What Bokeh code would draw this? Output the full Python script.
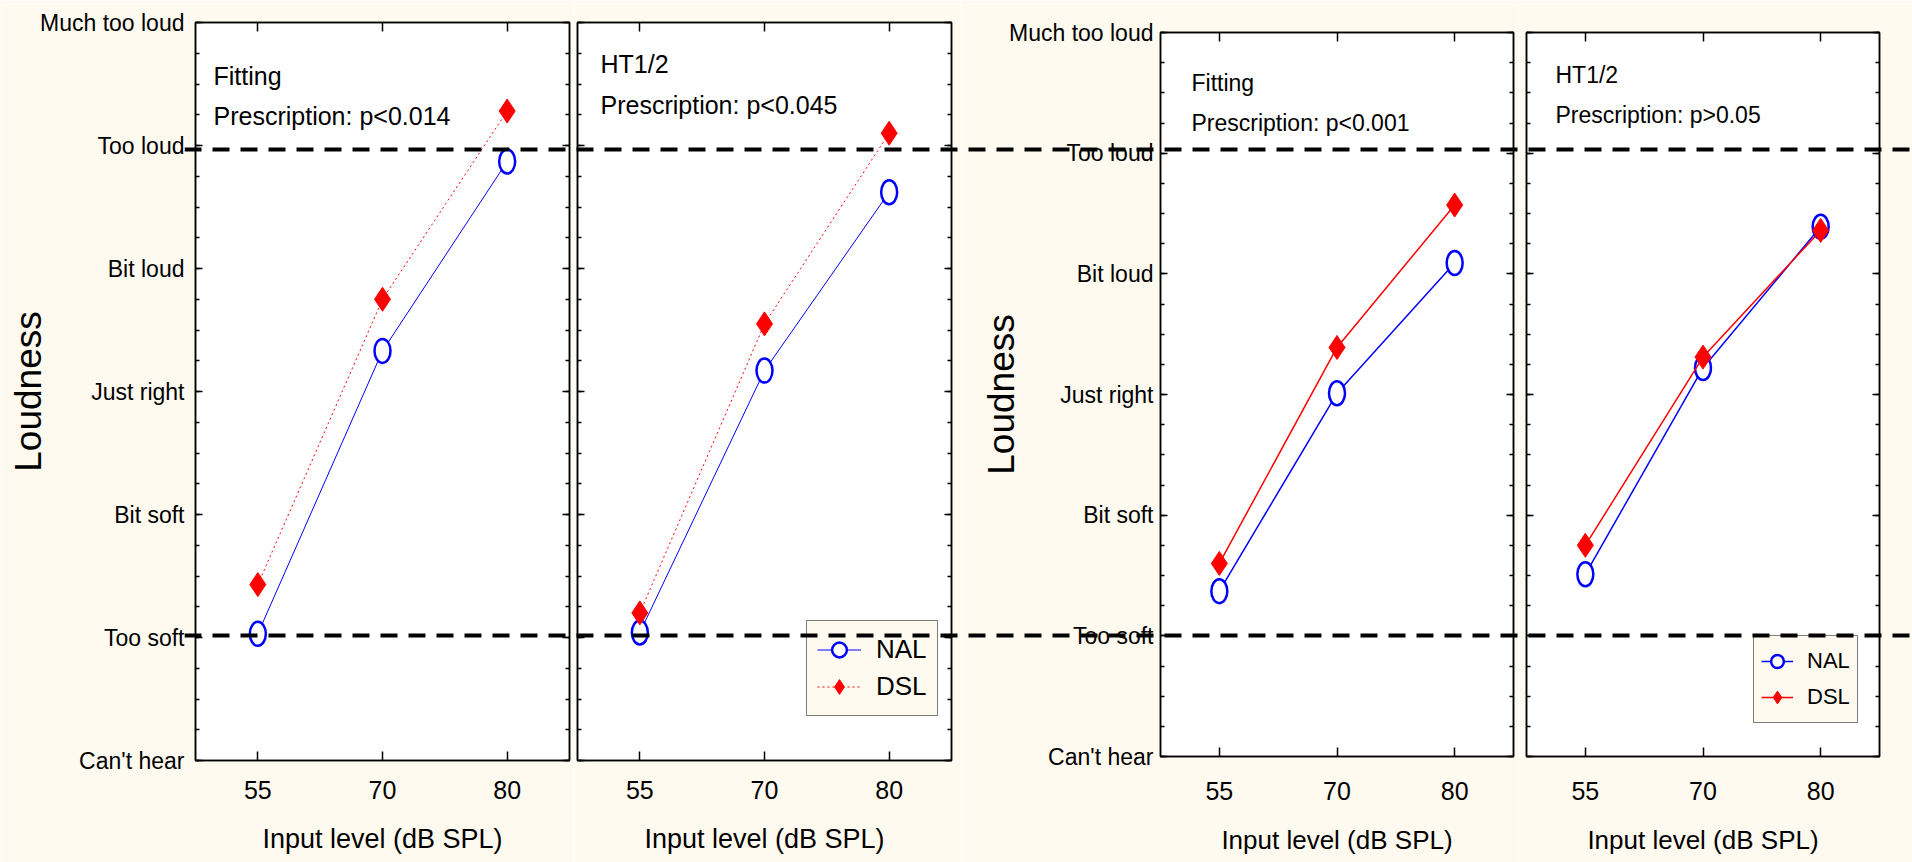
from bokeh.plotting import figure
from bokeh.models import (Range1d, FactorRange, LinearAxis, CategoricalAxis,
                          SingleIntervalTicker, CustomJSTickFormatter, Label,
                          Legend, LegendItem, GridBox, Row)
from bokeh.embed import file_html
from bokeh.resources import INLINE

# ---- data -------------------------------------------------------------
input_levels = ["55", "70", "80"]
loudness_scale = ["Can't hear", "Too soft", "Bit soft", "Just right",
                  "Bit loud", "Too loud", "Much too loud"]

# study A (left pair of panels)
fitting_a_nal = [1.03, 3.33, 4.87]
fitting_a_dsl = [1.43, 3.75, 5.28]
ht_a_nal = [1.04, 3.17, 4.62]
ht_a_dsl = [1.20, 3.55, 5.10]

# study B (right pair of panels)
fitting_b_nal = [1.37, 3.01, 4.09]
fitting_b_dsl = [1.60, 3.39, 4.57]
ht_b_nal = [1.51, 3.22, 4.39]
ht_b_dsl = [1.75, 3.31, 4.36]

panel_titles = ["Fitting", "HT1/2", "Fitting", "HT1/2"]
panel_stats = ["Prescription: p<0.014", "Prescription: p<0.045",
               "Prescription: p<0.001", "Prescription: p>0.05"]

comfort_limits = [5, 1]  # "Too loud" / "Too soft"

# ---- style ------------------------------------------------------------
CREAM = "#FFFAEF"
SANS = "Liberation Sans"
H = 862


def blank_labels(ax):
    ax.formatter = CustomJSTickFormatter(code="return ''")
    ax.major_label_standoff = 0
    ax.major_label_text_font_size = "1px"


def style_ticks(ax, tick_in, minor_in=0):
    ax.axis_line_width = 1.5
    ax.axis_line_color = "black"
    ax.major_tick_line_width = 1.5
    ax.minor_tick_line_width = 1.5
    ax.major_tick_in = tick_in
    ax.major_tick_out = 0
    ax.minor_tick_in = minor_in
    ax.minor_tick_out = 0


def make_panel(nal, dsl, title, stat, width, borders, y_labels, cfg):
    left, right, top, bottom = borders
    p = figure(width=width, height=H,
               x_range=FactorRange(*input_levels), y_range=Range1d(0, 6),
               min_border_left=left, min_border_right=right,
               min_border_top=top, min_border_bottom=bottom,
               frame_align=False,
               toolbar_location=None, output_backend="svg",
               background_fill_color="white", border_fill_color=CREAM,
               outline_line_color="black", outline_line_width=1.5)
    p.grid.visible = False

    # bottom axis
    xa = p.xaxis[0]
    style_ticks(xa, 9)
    xa.major_label_text_font = SANS
    xa.major_label_text_font_size = cfg["xtick_size"]
    xa.major_label_text_color = "black"
    xa.major_label_standoff = cfg["x_standoff"]
    xa.axis_label = "Input level (dB SPL)"
    xa.axis_label_text_font = SANS
    xa.axis_label_text_font_size = cfg["xlabel_size"]
    xa.axis_label_text_font_style = "normal"
    xa.axis_label_text_color = "black"
    xa.axis_label_standoff = cfg["xlabel_standoff"]

    # left axis
    ya = p.yaxis[0]
    ya.ticker = SingleIntervalTicker(interval=1, num_minor_ticks=4)
    style_ticks(ya, 7, 4)
    if y_labels:
        ya.major_label_overrides = {i: s for i, s in enumerate(loudness_scale)}
        ya.major_label_text_font = SANS
        ya.major_label_text_font_size = "23px"
        ya.major_label_text_color = "black"
        ya.major_label_standoff = cfg["y_standoff"]
        ya.axis_label = "Loudness"
        ya.axis_label_text_font = SANS
        ya.axis_label_text_font_size = "37px"
        ya.axis_label_text_font_style = "normal"
        ya.axis_label_text_color = "black"
        ya.axis_label_standoff = cfg["ylabel_standoff"]
    else:
        blank_labels(ya)

    # mirrored tick marks on top and right
    ra = LinearAxis(ticker=SingleIntervalTicker(interval=1, num_minor_ticks=4))
    style_ticks(ra, 7, 4)
    blank_labels(ra)
    p.add_layout(ra, "right")
    ta = CategoricalAxis()
    style_ticks(ta, 9)
    blank_labels(ta)
    p.add_layout(ta, "above")

    # series
    nal_line = p.line(input_levels, nal, line_color="blue", line_width=cfg["lw"])
    nal_key = p.scatter(input_levels, nal, marker="circle", size=0,
                        fill_color="white", line_color="blue", line_width=2.5)
    p.ellipse(input_levels, nal, width=16, height=24,
              width_units="screen", height_units="screen",
              fill_color="white", line_color="blue", line_width=2.5)
    dsl_line = p.line(input_levels, dsl, line_color="red", line_width=cfg["lw"],
                      line_dash=cfg["dsl_dash"])
    dsl_pts = p.scatter(input_levels, dsl, marker="diamond", size=24,
                        fill_color="red", line_color="red", line_width=1)

    # panel caption
    for txt, dy in ((title, cfg["title_dy"]), (stat, cfg["stat_dy"])):
        p.add_layout(Label(x=0, y=6, x_offset=cfg["text_dx"], y_offset=-dy,
                           text=txt, text_font=SANS,
                           text_font_size=cfg["text_size"],
                           text_baseline="alphabetic", text_align="left",
                           text_color="black"))

    if cfg.get("legend"):
        lg = cfg["legend"]
        legend = Legend(items=[LegendItem(label="NAL", renderers=[nal_line, nal_key]),
                               LegendItem(label="DSL", renderers=[dsl_line, dsl_pts])],
                        location=lg["loc"], orientation="vertical",
                        glyph_width=lg["gw"], glyph_height=lg["gh"],
                        spacing=0, padding=lg["padding"],
                        label_standoff=lg["standoff"], margin=0,
                        label_text_font=SANS, label_text_font_size=lg["size"],
                        label_text_color="black",
                        border_line_color="black", border_line_width=1.5,
                        background_fill_color=CREAM, background_fill_alpha=1.0)
        p.add_layout(legend)
    return p


left_cfg = dict(xtick_size="25px", x_standoff=20, xlabel_size="27px",
                xlabel_standoff=22, y_standoff=11, ylabel_standoff=-12, lw=1,
                dsl_dash="2 3", text_size="25px")
right_cfg = dict(xtick_size="25px", x_standoff=25, xlabel_size="26px",
                 xlabel_standoff=22, y_standoff=7, ylabel_standoff=-16, lw=1.5,
                 dsl_dash="solid", text_size="23px")

p1 = make_panel(fitting_a_nal, fitting_a_dsl, panel_titles[0], panel_stats[0],
                573, (195, 4, 22, 102), True,
                dict(left_cfg, text_dx=18, title_dy=53, stat_dy=93))
p2 = make_panel(ht_a_nal, ht_a_dsl, panel_titles[1], panel_stats[1],
                388, (4, 10, 22, 102), False,
                dict(left_cfg, text_dx=23, title_dy=41, stat_dy=82,
                     legend=dict(loc=(229, 44), gw=44, gh=37, padding=10,
                                 standoff=15, size="26px")))
p3 = make_panel(fitting_b_nal, fitting_b_dsl, panel_titles[2], panel_stats[2],
                558, (199, 6, 32, 106), True,
                dict(right_cfg, text_dx=31, title_dy=50, stat_dy=90))
p4 = make_panel(ht_b_nal, ht_b_dsl, panel_titles[3], panel_stats[3],
                393, (7, 33, 32, 106), False,
                dict(right_cfg, text_dx=29, title_dy=42, stat_dy=82,
                     legend=dict(loc=(227, 33), gw=32, gh=36, padding=7,
                                 standoff=14, size="22px")))

panels = Row(children=[p1, p2, p3, p4], spacing=0)

# dashed comfort-range limits running across all panels
overlay = figure(width=1912, height=H, x_range=Range1d(0, 1),
                 y_range=Range1d(-0.87, 6.225),
                 min_border_left=184, min_border_right=0,
                 min_border_top=0, min_border_bottom=0,
                 frame_align=False,
                 x_axis_location=None, y_axis_location=None,
                 toolbar_location=None, output_backend="svg",
                 background_fill_alpha=0, border_fill_alpha=0,
                 outline_line_color=None)
overlay.grid.visible = False
overlay.hspan(y=comfort_limits, line_color="black", line_width=4,
              line_dash="17 11")

layout = GridBox(children=[(panels, 0, 0), (overlay, 0, 0)])

open("out.html", "w").write(file_html(layout, INLINE))
